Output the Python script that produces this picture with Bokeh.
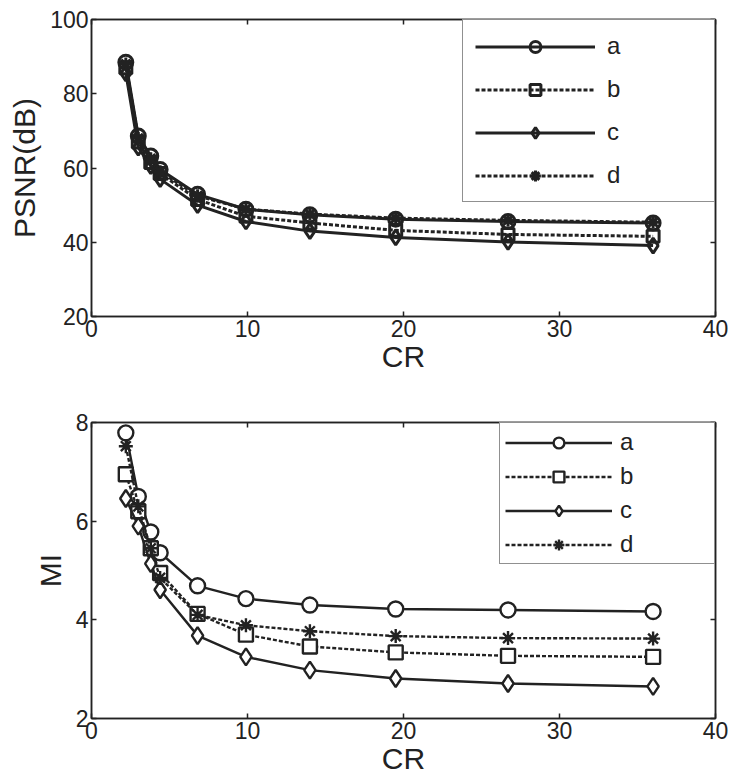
from bokeh.plotting import figure
from bokeh.models import FixedTicker, LinearAxis, Legend, LegendItem, Range1d
from bokeh.layouts import column
from bokeh.embed import file_html
from bokeh.resources import INLINE

# ---- data ----
cr = [2.2, 3.0, 3.8, 4.4, 6.8, 9.9, 14.0, 19.5, 26.7, 36.0]

psnr_a = [88.5, 68.6, 63.2, 59.6, 52.9, 48.9, 47.4, 46.2, 45.6, 45.2]
psnr_b = [87.0, 67.0, 61.5, 58.5, 51.5, 47.0, 45.2, 43.2, 42.1, 41.6]
psnr_c = [85.5, 65.5, 60.5, 57.0, 50.0, 45.6, 43.0, 41.3, 40.1, 39.1]
psnr_d = [88.0, 68.0, 62.5, 59.0, 52.5, 48.9, 47.6, 46.5, 45.9, 45.4]

mi_a = [7.79, 6.50, 5.78, 5.36, 4.69, 4.43, 4.30, 4.22, 4.20, 4.17]
mi_b = [6.95, 6.20, 5.45, 4.95, 4.12, 3.70, 3.46, 3.34, 3.27, 3.25]
mi_c = [6.46, 5.90, 5.14, 4.61, 3.68, 3.25, 2.98, 2.81, 2.71, 2.65]
mi_d = [7.52, 6.30, 5.45, 4.85, 4.10, 3.89, 3.77, 3.67, 3.63, 3.62]

labels = ["a", "b", "c", "d"]
x_ticks = [0, 10, 20, 30, 40]
psnr_ticks = [20, 40, 60, 80, 100]
mi_ticks = [2, 4, 6, 8]

FONT = "Liberation Sans"
INK = "#222222"
markers = ["circle", "square", "diamond", "asterisk"]
dashes = ["solid", "4 2", "solid", "4 2"]


def style(p, yticks):
    p.xgrid.visible = False
    p.ygrid.visible = False
    p.outline_line_color = INK
    p.outline_line_width = 1.5
    for ax in (p.xaxis[0], p.yaxis[0]):
        ax.major_label_text_font = FONT
        ax.major_label_text_font_size = "23px"
        ax.major_label_text_color = INK
        ax.axis_label_text_font = FONT
        ax.axis_label_text_font_size = "30px"
        ax.axis_label_text_font_style = "normal"
        ax.axis_label_text_color = INK
        ax.axis_line_color = INK
        ax.axis_line_width = 1.5
        ax.major_tick_line_color = INK
        ax.major_tick_line_width = 1.5
        ax.major_tick_in = 5
        ax.major_tick_out = 0
        ax.minor_tick_line_color = None
    p.xaxis[0].ticker = FixedTicker(ticks=x_ticks)
    p.yaxis[0].ticker = FixedTicker(ticks=yticks)
    p.xaxis[0].major_label_standoff = 3
    p.yaxis[0].major_label_standoff = 3
    p.xaxis[0].axis_label_standoff = 0
    p.yaxis[0].axis_label_standoff = 6
    for loc, tk in (("above", x_ticks), ("right", yticks)):
        ax = LinearAxis(ticker=FixedTicker(ticks=tk))
        ax.major_label_text_font_size = "1px"
        ax.major_label_text_alpha = 0
        ax.major_label_standoff = 0
        ax.axis_line_color = INK
        ax.axis_line_width = 1.5
        ax.major_tick_line_color = INK
        ax.major_tick_line_width = 1.5
        ax.major_tick_in = 5
        ax.major_tick_out = 0
        ax.minor_tick_line_color = None
        p.add_layout(ax, loc)


def make(series, yrange, yticks, ylabel, sizes, lw, fill_alpha, borders,
         fw, fh, leg):
    p = figure(frame_width=fw, frame_height=fh,
               x_range=Range1d(0, 40), y_range=Range1d(*yrange),
               output_backend="svg", toolbar_location=None,
               min_border_left=borders[0], min_border_right=borders[1],
               min_border_top=borders[2], min_border_bottom=borders[3],
               background_fill_color="white", border_fill_color="white")
    p.xaxis.axis_label = "CR"
    p.yaxis.axis_label = ylabel
    style(p, yticks)
    items = []
    for ys, lab, mk, dash, sz in zip(series, labels, markers, dashes, sizes):
        lr = p.line(cr, ys, line_color=INK, line_width=lw, line_dash=dash)
        sr = p.scatter(cr, ys, marker=mk, size=sz, line_color=INK,
                       line_width=lw, fill_color="white",
                       fill_alpha=fill_alpha)
        items.append(LegendItem(label=lab, renderers=[lr, sr]))
    legend = Legend(items=items, location="top_right", margin=0,
                    padding=leg["padding"], spacing=leg["spacing"],
                    glyph_width=leg["glyph_width"],
                    glyph_height=leg["item_h"],
                    label_height=leg["item_h"],
                    label_width=leg["label_width"],
                    label_standoff=leg["standoff"],
                    label_text_font=FONT, label_text_font_size="24px",
                    label_text_color=INK,
                    border_line_color=INK, border_line_width=1.5,
                    background_fill_color="white", background_fill_alpha=1.0)
    p.add_layout(legend, "center")
    return p


p1 = make([psnr_a, psnr_b, psnr_c, psnr_d], (20, 100), psnr_ticks, "PSNR(dB)",
          [14, 12, 15, 13], 3.0, 0.0, (91, 19, 19, 66), 624, 297,
          dict(padding=12, spacing=15, glyph_width=120, item_h=27,
               label_width=95, standoff=12))
p2 = make([mi_a, mi_b, mi_c, mi_d], (2, 8), mi_ticks, "MI",
          [15, 14, 17, 14], 2.4, 1.0, (87, 23, 40, 51), 624, 296,
          dict(padding=5, spacing=6, glyph_width=107, item_h=27,
               label_width=89, standoff=8))

layout = column(p1, p2, spacing=0)
open("out.html", "w").write(file_html(layout, INLINE))
